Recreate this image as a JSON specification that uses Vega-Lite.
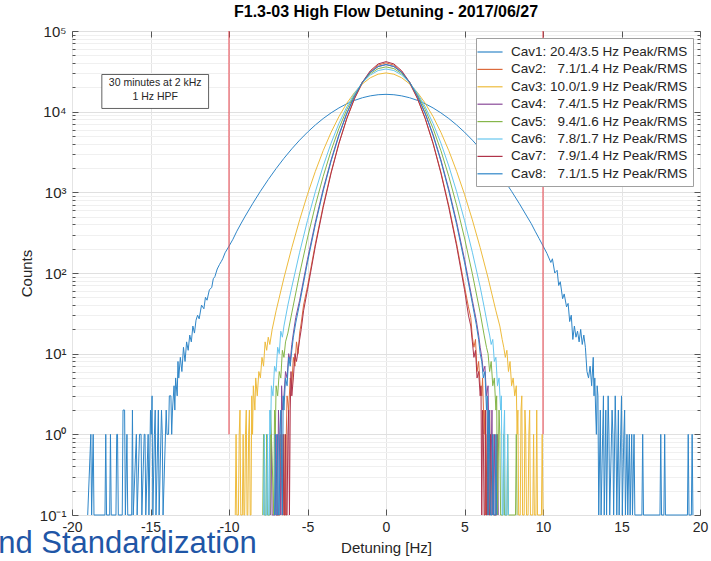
{
"$schema":"https://vega.github.io/schema/vega-lite/v6.json",
"width":628,"height":484,
"autosize":{"type":"none"},
"padding":{"left":72,"top":31,"right":11,"bottom":46},
"title":{"text":"F1.3-03 High Flow Detuning - 2017/06/27","fontSize":16,"fontWeight":"bold","font":"Liberation Sans","color":"#000000","anchor":"middle","offset":4},
"config":{"view":{"stroke":"#7a7a7a","strokeWidth":1},"font":"Liberation Sans",
"legend":{"orient":"top-right","offset":7,"symbolType":"M-1.5,0H1.5","symbolSize":280,"symbolStrokeWidth":1.2,"labelFontSize":13.5,"labelFont":"Liberation Sans","labelColor":"#262626","strokeColor":"#a0a0a0","fillColor":"#ffffff","padding":5,"rowPadding":1.4,"labelLimit":400,"labelOffset":12}},
"datasets":{
"h":[
{"c":"Cav1","x":-19.0,"n":0.1},{"c":"Cav1","x":-18.8,"n":1},{"c":"Cav1","x":-18.75,"n":0.1},{"c":"Cav1","x":-18.65,"n":1},{"c":"Cav1","x":-18.6,"n":0.1},{"c":"Cav1","x":-17.9,"n":0.1},{"c":"Cav1","x":-17.85,"n":1},{"c":"Cav1","x":-17.8,"n":0.1},{"c":"Cav1","x":-17.6,"n":0.1},{"c":"Cav1","x":-17.55,"n":1},{"c":"Cav1","x":-17.5,"n":0.1},{"c":"Cav1","x":-17.2,"n":0.1},{"c":"Cav1","x":-17.15,"n":1},{"c":"Cav1","x":-17.1,"n":1},{"c":"Cav1","x":-17.05,"n":0.1},{"c":"Cav1","x":-16.8,"n":0.1},{"c":"Cav1","x":-16.75,"n":2},{"c":"Cav1","x":-16.65,"n":2},{"c":"Cav1","x":-16.6,"n":0.1},{"c":"Cav1","x":-16.5,"n":1},{"c":"Cav1","x":-16.45,"n":0.1},{"c":"Cav1","x":-16.2,"n":0.1},{"c":"Cav1","x":-16.15,"n":2},{"c":"Cav1","x":-16.1,"n":0.1},{"c":"Cav1","x":-15.9,"n":1},{"c":"Cav1","x":-15.85,"n":0.1},{"c":"Cav1","x":-15.7,"n":1},{"c":"Cav1","x":-15.6,"n":1},{"c":"Cav1","x":-15.55,"n":0.1},{"c":"Cav1","x":-15.4,"n":1},{"c":"Cav1","x":-15.35,"n":1},{"c":"Cav1","x":-15.3,"n":0.1},{"c":"Cav1","x":-15.15,"n":1},{"c":"Cav1","x":-15.1,"n":0.1},{"c":"Cav1","x":-15.0,"n":2},{"c":"Cav1","x":-14.95,"n":1},{"c":"Cav1","x":-14.9,"n":3},{"c":"Cav1","x":-14.85,"n":0.1},{"c":"Cav1","x":-14.75,"n":1},{"c":"Cav1","x":-14.7,"n":2},{"c":"Cav1","x":-14.65,"n":0.1},{"c":"Cav1","x":-14.5,"n":2},{"c":"Cav1","x":-14.45,"n":0.1},{"c":"Cav1","x":-14.3,"n":2},{"c":"Cav1","x":-14.25,"n":1},{"c":"Cav1","x":-14.2,"n":0.1},{"c":"Cav1","x":-14.0,"n":2},{"c":"Cav1","x":-13.95,"n":1},{"c":"Cav1","x":-13.85,"n":1},{"c":"Cav1","x":-13.8,"n":3},{"c":"Cav1","x":-13.7,"n":3},{"c":"Cav1","x":-13.65,"n":1},{"c":"Cav1","x":-13.6,"n":2},{"c":"Cav1","x":-13.5,"n":4},{"c":"Cav1","x":-13.45,"n":2},{"c":"Cav1","x":-13.4,"n":5},{"c":"Cav1","x":-13.3,"n":3},{"c":"Cav1","x":-13.25,"n":8},{"c":"Cav1","x":-13.2,"n":5},{"c":"Cav1","x":-13.1,"n":9},{"c":"Cav1","x":-13.0,"n":6},{"c":"Cav1","x":-12.9,"n":12},{"c":"Cav1","x":-12.8,"n":8},{"c":"Cav1","x":-12.7,"n":14},{"c":"Cav1","x":-12.6,"n":11},{"c":"Cav1","x":-12.5,"n":17},{"c":"Cav1","x":-12.4,"n":14},{"c":"Cav1","x":-12.3,"n":22},{"c":"Cav1","x":-12.2,"n":18},{"c":"Cav1","x":-12.1,"n":26},{"c":"Cav1","x":-12.0,"n":30},{"c":"Cav1","x":-11.9,"n":27},{"c":"Cav1","x":-11.75,"n":40},{"c":"Cav1","x":-11.6,"n":36},{"c":"Cav1","x":-11.5,"n":50},{"c":"Cav1","x":-11.4,"n":46},{"c":"Cav1","x":-11.25,"n":62},{"c":"Cav1","x":-11.1,"n":66},{"c":"Cav1","x":-11.0,"n":85},{"c":"Cav1","x":-10.9,"n":90},{"c":"Cav1","x":-10.75,"n":112},{"c":"Cav1","x":-10.6,"n":128},{"c":"Cav1","x":-10.5,"n":138},{"c":"Cav1","x":-10.4,"n":150},{"c":"Cav1","x":-10.25,"n":178},{"c":"Cav1","x":-10.0,"n":215},{"c":"Cav1","x":-9.75,"n":262},{"c":"Cav1","x":-9.5,"n":330},{"c":"Cav1","x":-9.25,"n":405},{"c":"Cav1","x":-9.0,"n":494},{"c":"Cav1","x":-8.5,"n":721},{"c":"Cav1","x":-8.0,"n":1030},{"c":"Cav1","x":-7.5,"n":1440},{"c":"Cav1","x":-7.0,"n":1970},{"c":"Cav1","x":-6.5,"n":2640},{"c":"Cav1","x":-6.0,"n":3460},{"c":"Cav1","x":-5.5,"n":4440},{"c":"Cav1","x":-5.0,"n":5570},{"c":"Cav1","x":-4.5,"n":6840},{"c":"Cav1","x":-4.0,"n":8220},{"c":"Cav1","x":-3.5,"n":9660},{"c":"Cav1","x":-3.0,"n":11120},{"c":"Cav1","x":-2.5,"n":12530},{"c":"Cav1","x":-2.0,"n":13800},{"c":"Cav1","x":-1.5,"n":14890},{"c":"Cav1","x":-1.0,"n":15700},{"c":"Cav1","x":-0.5,"n":16220},{"c":"Cav1","x":0,"n":16400},{"c":"Cav1","x":0.5,"n":16220},{"c":"Cav1","x":1.0,"n":15700},{"c":"Cav1","x":1.5,"n":14890},{"c":"Cav1","x":2.0,"n":13800},{"c":"Cav1","x":2.5,"n":12530},{"c":"Cav1","x":3.0,"n":11120},{"c":"Cav1","x":3.5,"n":9660},{"c":"Cav1","x":4.0,"n":8220},{"c":"Cav1","x":4.5,"n":6840},{"c":"Cav1","x":5.0,"n":5570},{"c":"Cav1","x":5.5,"n":4440},{"c":"Cav1","x":6.0,"n":3460},{"c":"Cav1","x":6.5,"n":2640},{"c":"Cav1","x":7.0,"n":1970},{"c":"Cav1","x":7.5,"n":1440},{"c":"Cav1","x":8.0,"n":1030},{"c":"Cav1","x":8.5,"n":721},{"c":"Cav1","x":9.0,"n":494},{"c":"Cav1","x":9.25,"n":410},{"c":"Cav1","x":9.5,"n":330},{"c":"Cav1","x":9.75,"n":268},{"c":"Cav1","x":10.0,"n":217},{"c":"Cav1","x":10.25,"n":175},{"c":"Cav1","x":10.5,"n":135},{"c":"Cav1","x":10.6,"n":150},{"c":"Cav1","x":10.75,"n":100},{"c":"Cav1","x":10.9,"n":108},{"c":"Cav1","x":11.0,"n":70},{"c":"Cav1","x":11.1,"n":78},{"c":"Cav1","x":11.25,"n":48},{"c":"Cav1","x":11.35,"n":55},{"c":"Cav1","x":11.5,"n":38},{"c":"Cav1","x":11.6,"n":42},{"c":"Cav1","x":11.7,"n":25},{"c":"Cav1","x":11.8,"n":30},{"c":"Cav1","x":11.9,"n":15},{"c":"Cav1","x":12.0,"n":22},{"c":"Cav1","x":12.1,"n":16},{"c":"Cav1","x":12.2,"n":19},{"c":"Cav1","x":12.3,"n":14},{"c":"Cav1","x":12.4,"n":20},{"c":"Cav1","x":12.5,"n":13},{"c":"Cav1","x":12.6,"n":17},{"c":"Cav1","x":12.7,"n":12},{"c":"Cav1","x":12.8,"n":6},{"c":"Cav1","x":12.9,"n":5},{"c":"Cav1","x":13.0,"n":7},{"c":"Cav1","x":13.1,"n":4},{"c":"Cav1","x":13.2,"n":9},{"c":"Cav1","x":13.25,"n":3},{"c":"Cav1","x":13.3,"n":5},{"c":"Cav1","x":13.35,"n":2},{"c":"Cav1","x":13.4,"n":1},{"c":"Cav1","x":13.45,"n":4},{"c":"Cav1","x":13.5,"n":3},{"c":"Cav1","x":13.55,"n":0.1},{"c":"Cav1","x":13.65,"n":2},{"c":"Cav1","x":13.7,"n":0.1},{"c":"Cav1","x":13.8,"n":1},{"c":"Cav1","x":13.85,"n":3},{"c":"Cav1","x":13.9,"n":0.1},{"c":"Cav1","x":14.0,"n":2},{"c":"Cav1","x":14.05,"n":0.1},{"c":"Cav1","x":14.15,"n":3},{"c":"Cav1","x":14.2,"n":1},{"c":"Cav1","x":14.25,"n":0.1},{"c":"Cav1","x":14.4,"n":2},{"c":"Cav1","x":14.45,"n":1},{"c":"Cav1","x":14.5,"n":0.1},{"c":"Cav1","x":14.6,"n":3},{"c":"Cav1","x":14.65,"n":1},{"c":"Cav1","x":14.7,"n":0.1},{"c":"Cav1","x":14.8,"n":2},{"c":"Cav1","x":14.85,"n":0.1},{"c":"Cav1","x":14.95,"n":1},{"c":"Cav1","x":15.0,"n":3},{"c":"Cav1","x":15.05,"n":0.1},{"c":"Cav1","x":15.15,"n":1},{"c":"Cav1","x":15.2,"n":2},{"c":"Cav1","x":15.25,"n":0.1},{"c":"Cav1","x":15.35,"n":1},{"c":"Cav1","x":15.4,"n":0.1},{"c":"Cav1","x":15.5,"n":1},{"c":"Cav1","x":15.55,"n":0.1},{"c":"Cav1","x":15.65,"n":1},{"c":"Cav1","x":15.7,"n":0.1},{"c":"Cav1","x":15.8,"n":1},{"c":"Cav1","x":15.85,"n":0.1},{"c":"Cav1","x":16.3,"n":0.1},{"c":"Cav1","x":16.35,"n":1},{"c":"Cav1","x":16.4,"n":0.1},{"c":"Cav1","x":17.45,"n":0.1},{"c":"Cav1","x":17.5,"n":1},{"c":"Cav1","x":17.55,"n":0.1},{"c":"Cav1","x":17.7,"n":0.1},{"c":"Cav1","x":17.75,"n":1},{"c":"Cav1","x":17.8,"n":0.1},{"c":"Cav1","x":19.2,"n":0.1},{"c":"Cav1","x":19.25,"n":1},{"c":"Cav1","x":19.3,"n":0.1},{"c":"Cav1","x":19.45,"n":0.1},{"c":"Cav1","x":19.5,"n":1},{"c":"Cav1","x":19.55,"n":0.1},

{"c":"Cav2","x":-7.0,"n":0.1},{"c":"Cav2","x":-6.75,"n":0.1},{"c":"Cav2","x":-6.7,"n":1},{"c":"Cav2","x":-6.6,"n":0.1},{"c":"Cav2","x":-6.55,"n":0.1},{"c":"Cav2","x":-6.5,"n":1},{"c":"Cav2","x":-6.45,"n":0.1},{"c":"Cav2","x":-6.4,"n":0.1},{"c":"Cav2","x":-6.35,"n":1},{"c":"Cav2","x":-6.3,"n":3},{"c":"Cav2","x":-6.2,"n":2},{"c":"Cav2","x":-6.1,"n":5},{"c":"Cav2","x":-6.0,"n":4},{"c":"Cav2","x":-5.9,"n":9},{"c":"Cav2","x":-5.8,"n":7},{"c":"Cav2","x":-5.7,"n":14},{"c":"Cav2","x":-5.6,"n":10},{"c":"Cav2","x":-5.5,"n":18},{"c":"Cav2","x":-5.4,"n":24},{"c":"Cav2","x":-5.25,"n":40},{"c":"Cav2","x":-5.0,"n":68},{"c":"Cav2","x":-4.5,"n":230},{"c":"Cav2","x":-4.0,"n":679},{"c":"Cav2","x":-3.5,"n":1770},{"c":"Cav2","x":-3.0,"n":4060},{"c":"Cav2","x":-2.5,"n":8180},{"c":"Cav2","x":-2.0,"n":14520},{"c":"Cav2","x":-1.5,"n":22700},{"c":"Cav2","x":-1.0,"n":31190},{"c":"Cav2","x":-0.5,"n":37760},{"c":"Cav2","x":0,"n":40270},{"c":"Cav2","x":0.5,"n":37760},{"c":"Cav2","x":1.0,"n":31190},{"c":"Cav2","x":1.5,"n":22700},{"c":"Cav2","x":2.0,"n":14520},{"c":"Cav2","x":2.5,"n":8180},{"c":"Cav2","x":3.0,"n":4060},{"c":"Cav2","x":3.5,"n":1770},{"c":"Cav2","x":4.0,"n":679},{"c":"Cav2","x":4.5,"n":230},{"c":"Cav2","x":5.0,"n":68},{"c":"Cav2","x":5.25,"n":38},{"c":"Cav2","x":5.4,"n":28},{"c":"Cav2","x":5.5,"n":16},{"c":"Cav2","x":5.6,"n":12},{"c":"Cav2","x":5.7,"n":15},{"c":"Cav2","x":5.8,"n":6},{"c":"Cav2","x":5.9,"n":8},{"c":"Cav2","x":6.0,"n":4},{"c":"Cav2","x":6.1,"n":3},{"c":"Cav2","x":6.15,"n":5},{"c":"Cav2","x":6.25,"n":1},{"c":"Cav2","x":6.3,"n":2},{"c":"Cav2","x":6.35,"n":0.1},{"c":"Cav2","x":6.45,"n":1},{"c":"Cav2","x":6.5,"n":0.1},{"c":"Cav2","x":6.6,"n":2},{"c":"Cav2","x":6.65,"n":0.1},{"c":"Cav2","x":6.8,"n":1},{"c":"Cav2","x":6.85,"n":0.1},{"c":"Cav2","x":7.0,"n":0.1},{"c":"Cav2","x":7.05,"n":1},{"c":"Cav2","x":7.1,"n":0.1},

{"c":"Cav3","x":-9.6,"n":0.1},{"c":"Cav3","x":-9.55,"n":1},{"c":"Cav3","x":-9.5,"n":0.1},{"c":"Cav3","x":-9.4,"n":0.1},{"c":"Cav3","x":-9.35,"n":1},{"c":"Cav3","x":-9.3,"n":2},{"c":"Cav3","x":-9.25,"n":0.1},{"c":"Cav3","x":-9.15,"n":0.1},{"c":"Cav3","x":-9.1,"n":1},{"c":"Cav3","x":-9.05,"n":0.1},{"c":"Cav3","x":-9.0,"n":0.1},{"c":"Cav3","x":-8.95,"n":1},{"c":"Cav3","x":-8.9,"n":2},{"c":"Cav3","x":-8.85,"n":0.1},{"c":"Cav3","x":-8.8,"n":0.1},{"c":"Cav3","x":-8.75,"n":1},{"c":"Cav3","x":-8.7,"n":2},{"c":"Cav3","x":-8.65,"n":0.1},{"c":"Cav3","x":-8.6,"n":0.1},{"c":"Cav3","x":-8.55,"n":3},{"c":"Cav3","x":-8.5,"n":1},{"c":"Cav3","x":-8.45,"n":4},{"c":"Cav3","x":-8.35,"n":2},{"c":"Cav3","x":-8.3,"n":5},{"c":"Cav3","x":-8.2,"n":3},{"c":"Cav3","x":-8.1,"n":6},{"c":"Cav3","x":-8.0,"n":5},{"c":"Cav3","x":-7.9,"n":9},{"c":"Cav3","x":-7.8,"n":7},{"c":"Cav3","x":-7.7,"n":14},{"c":"Cav3","x":-7.6,"n":11},{"c":"Cav3","x":-7.5,"n":16},{"c":"Cav3","x":-7.4,"n":13},{"c":"Cav3","x":-7.25,"n":20},{"c":"Cav3","x":-7.0,"n":34},{"c":"Cav3","x":-6.5,"n":87},{"c":"Cav3","x":-6.0,"n":206},{"c":"Cav3","x":-5.5,"n":456},{"c":"Cav3","x":-5.0,"n":944},{"c":"Cav3","x":-4.5,"n":1820},{"c":"Cav3","x":-4.0,"n":3290},{"c":"Cav3","x":-3.5,"n":5530},{"c":"Cav3","x":-3.0,"n":8670},{"c":"Cav3","x":-2.5,"n":12700},{"c":"Cav3","x":-2.0,"n":17340},{"c":"Cav3","x":-1.5,"n":22130},{"c":"Cav3","x":-1.0,"n":26300},{"c":"Cav3","x":-0.5,"n":29170},{"c":"Cav3","x":0,"n":30200},{"c":"Cav3","x":0.5,"n":29170},{"c":"Cav3","x":1.0,"n":26300},{"c":"Cav3","x":1.5,"n":22130},{"c":"Cav3","x":2.0,"n":17340},{"c":"Cav3","x":2.5,"n":12700},{"c":"Cav3","x":3.0,"n":8670},{"c":"Cav3","x":3.5,"n":5530},{"c":"Cav3","x":4.0,"n":3290},{"c":"Cav3","x":4.5,"n":1820},{"c":"Cav3","x":5.0,"n":944},{"c":"Cav3","x":5.5,"n":456},{"c":"Cav3","x":6.0,"n":206},{"c":"Cav3","x":6.5,"n":87},{"c":"Cav3","x":7.0,"n":34},{"c":"Cav3","x":7.25,"n":22},{"c":"Cav3","x":7.4,"n":15},{"c":"Cav3","x":7.5,"n":12},{"c":"Cav3","x":7.6,"n":9},{"c":"Cav3","x":7.7,"n":11},{"c":"Cav3","x":7.8,"n":6},{"c":"Cav3","x":7.9,"n":8},{"c":"Cav3","x":8.0,"n":4},{"c":"Cav3","x":8.1,"n":5},{"c":"Cav3","x":8.2,"n":3},{"c":"Cav3","x":8.3,"n":4},{"c":"Cav3","x":8.35,"n":1},{"c":"Cav3","x":8.4,"n":2},{"c":"Cav3","x":8.45,"n":0.1},{"c":"Cav3","x":8.55,"n":0.1},{"c":"Cav3","x":8.6,"n":2},{"c":"Cav3","x":8.65,"n":3},{"c":"Cav3","x":8.7,"n":0.1},{"c":"Cav3","x":8.8,"n":0.1},{"c":"Cav3","x":8.85,"n":2},{"c":"Cav3","x":8.9,"n":1},{"c":"Cav3","x":8.95,"n":0.1},{"c":"Cav3","x":9.05,"n":0.1},{"c":"Cav3","x":9.1,"n":1},{"c":"Cav3","x":9.15,"n":2},{"c":"Cav3","x":9.2,"n":0.1},{"c":"Cav3","x":9.35,"n":0.1},{"c":"Cav3","x":9.4,"n":1},{"c":"Cav3","x":9.45,"n":0.1},{"c":"Cav3","x":9.55,"n":0.1},{"c":"Cav3","x":9.6,"n":2},{"c":"Cav3","x":9.65,"n":0.1},{"c":"Cav3","x":9.9,"n":0.1},{"c":"Cav3","x":9.95,"n":1},{"c":"Cav3","x":10.0,"n":0.1},

{"c":"Cav4","x":-7.35,"n":0.1},{"c":"Cav4","x":-7.3,"n":1},{"c":"Cav4","x":-7.25,"n":0.1},{"c":"Cav4","x":-7.05,"n":0.1},{"c":"Cav4","x":-7.0,"n":1},{"c":"Cav4","x":-6.95,"n":0.1},{"c":"Cav4","x":-6.9,"n":0.1},{"c":"Cav4","x":-6.85,"n":2},{"c":"Cav4","x":-6.8,"n":1},{"c":"Cav4","x":-6.7,"n":0.1},{"c":"Cav4","x":-6.65,"n":4},{"c":"Cav4","x":-6.6,"n":2},{"c":"Cav4","x":-6.5,"n":3},{"c":"Cav4","x":-6.4,"n":6},{"c":"Cav4","x":-6.3,"n":5},{"c":"Cav4","x":-6.2,"n":10},{"c":"Cav4","x":-6.1,"n":8},{"c":"Cav4","x":-6.0,"n":13},{"c":"Cav4","x":-5.9,"n":18},{"c":"Cav4","x":-5.75,"n":28},{"c":"Cav4","x":-5.5,"n":46},{"c":"Cav4","x":-5.0,"n":148},{"c":"Cav4","x":-4.5,"n":426},{"c":"Cav4","x":-4.0,"n":1094},{"c":"Cav4","x":-3.5,"n":2520},{"c":"Cav4","x":-3.0,"n":5190},{"c":"Cav4","x":-2.5,"n":9550},{"c":"Cav4","x":-2.0,"n":15740},{"c":"Cav4","x":-1.5,"n":23230},{"c":"Cav4","x":-1.0,"n":30690},{"c":"Cav4","x":-0.5,"n":36220},{"c":"Cav4","x":0,"n":38280},{"c":"Cav4","x":0.5,"n":36220},{"c":"Cav4","x":1.0,"n":30690},{"c":"Cav4","x":1.5,"n":23230},{"c":"Cav4","x":2.0,"n":15740},{"c":"Cav4","x":2.5,"n":9550},{"c":"Cav4","x":3.0,"n":5190},{"c":"Cav4","x":3.5,"n":2520},{"c":"Cav4","x":4.0,"n":1094},{"c":"Cav4","x":4.5,"n":426},{"c":"Cav4","x":5.0,"n":148},{"c":"Cav4","x":5.5,"n":46},{"c":"Cav4","x":5.75,"n":26},{"c":"Cav4","x":5.9,"n":17},{"c":"Cav4","x":6.0,"n":12},{"c":"Cav4","x":6.1,"n":9},{"c":"Cav4","x":6.2,"n":6},{"c":"Cav4","x":6.3,"n":7},{"c":"Cav4","x":6.4,"n":3},{"c":"Cav4","x":6.5,"n":4},{"c":"Cav4","x":6.55,"n":1},{"c":"Cav4","x":6.6,"n":2},{"c":"Cav4","x":6.65,"n":0.1},{"c":"Cav4","x":6.75,"n":2},{"c":"Cav4","x":6.8,"n":0.1},{"c":"Cav4","x":6.9,"n":1},{"c":"Cav4","x":6.95,"n":0.1},{"c":"Cav4","x":7.05,"n":0.1},{"c":"Cav4","x":7.1,"n":1},{"c":"Cav4","x":7.15,"n":0.1},

{"c":"Cav5","x":-7.85,"n":0.1},{"c":"Cav5","x":-7.8,"n":1},{"c":"Cav5","x":-7.75,"n":0.1},{"c":"Cav5","x":-7.65,"n":0.1},{"c":"Cav5","x":-7.6,"n":1},{"c":"Cav5","x":-7.55,"n":0.1},{"c":"Cav5","x":-7.4,"n":0.1},{"c":"Cav5","x":-7.35,"n":2},{"c":"Cav5","x":-7.3,"n":1},{"c":"Cav5","x":-7.15,"n":0.1},{"c":"Cav5","x":-7.1,"n":2},{"c":"Cav5","x":-7.05,"n":1},{"c":"Cav5","x":-7.0,"n":4},{"c":"Cav5","x":-6.9,"n":3},{"c":"Cav5","x":-6.8,"n":6},{"c":"Cav5","x":-6.7,"n":5},{"c":"Cav5","x":-6.6,"n":11},{"c":"Cav5","x":-6.5,"n":9},{"c":"Cav5","x":-6.4,"n":14},{"c":"Cav5","x":-6.25,"n":18},{"c":"Cav5","x":-6.0,"n":32},{"c":"Cav5","x":-5.5,"n":98},{"c":"Cav5","x":-5.0,"n":272},{"c":"Cav5","x":-4.5,"n":689},{"c":"Cav5","x":-4.0,"n":1578},{"c":"Cav5","x":-3.5,"n":3280},{"c":"Cav5","x":-3.0,"n":6190},{"c":"Cav5","x":-2.5,"n":10590},{"c":"Cav5","x":-2.0,"n":16440},{"c":"Cav5","x":-1.5,"n":23120},{"c":"Cav5","x":-1.0,"n":29510},{"c":"Cav5","x":-0.5,"n":34200},{"c":"Cav5","x":0,"n":35890},{"c":"Cav5","x":0.5,"n":34200},{"c":"Cav5","x":1.0,"n":29510},{"c":"Cav5","x":1.5,"n":23120},{"c":"Cav5","x":2.0,"n":16440},{"c":"Cav5","x":2.5,"n":10590},{"c":"Cav5","x":3.0,"n":6190},{"c":"Cav5","x":3.5,"n":3280},{"c":"Cav5","x":4.0,"n":1578},{"c":"Cav5","x":4.5,"n":689},{"c":"Cav5","x":5.0,"n":272},{"c":"Cav5","x":5.5,"n":98},{"c":"Cav5","x":6.0,"n":32},{"c":"Cav5","x":6.25,"n":17},{"c":"Cav5","x":6.4,"n":12},{"c":"Cav5","x":6.5,"n":10},{"c":"Cav5","x":6.6,"n":6},{"c":"Cav5","x":6.7,"n":8},{"c":"Cav5","x":6.8,"n":4},{"c":"Cav5","x":6.9,"n":5},{"c":"Cav5","x":7.0,"n":2},{"c":"Cav5","x":7.05,"n":3},{"c":"Cav5","x":7.1,"n":0.1},{"c":"Cav5","x":7.2,"n":2},{"c":"Cav5","x":7.25,"n":1},{"c":"Cav5","x":7.3,"n":0.1},{"c":"Cav5","x":7.45,"n":0.1},{"c":"Cav5","x":7.5,"n":1},{"c":"Cav5","x":7.55,"n":0.1},{"c":"Cav5","x":7.7,"n":0.1},{"c":"Cav5","x":7.75,"n":1},{"c":"Cav5","x":7.8,"n":0.1},{"c":"Cav5","x":8.25,"n":0.1},{"c":"Cav5","x":8.3,"n":1},{"c":"Cav5","x":8.35,"n":0.1},

{"c":"Cav6","x":-7.8,"n":0.1},{"c":"Cav6","x":-7.75,"n":1},{"c":"Cav6","x":-7.7,"n":0.1},{"c":"Cav6","x":-7.6,"n":0.1},{"c":"Cav6","x":-7.55,"n":1},{"c":"Cav6","x":-7.5,"n":0.1},{"c":"Cav6","x":-7.45,"n":0.1},{"c":"Cav6","x":-7.4,"n":2},{"c":"Cav6","x":-7.35,"n":1},{"c":"Cav6","x":-7.3,"n":4},{"c":"Cav6","x":-7.2,"n":3},{"c":"Cav6","x":-7.1,"n":7},{"c":"Cav6","x":-7.0,"n":6},{"c":"Cav6","x":-6.9,"n":12},{"c":"Cav6","x":-6.8,"n":10},{"c":"Cav6","x":-6.7,"n":19},{"c":"Cav6","x":-6.6,"n":16},{"c":"Cav6","x":-6.5,"n":22},{"c":"Cav6","x":-6.25,"n":40},{"c":"Cav6","x":-6.0,"n":67},{"c":"Cav6","x":-5.5,"n":181},{"c":"Cav6","x":-5.0,"n":449},{"c":"Cav6","x":-4.5,"n":1018},{"c":"Cav6","x":-4.0,"n":2120},{"c":"Cav6","x":-3.5,"n":4060},{"c":"Cav6","x":-3.0,"n":7130},{"c":"Cav6","x":-2.5,"n":11480},{"c":"Cav6","x":-2.0,"n":16940},{"c":"Cav6","x":-1.5,"n":22910},{"c":"Cav6","x":-1.0,"n":28440},{"c":"Cav6","x":-0.5,"n":32360},{"c":"Cav6","x":0,"n":33810},{"c":"Cav6","x":0.5,"n":32360},{"c":"Cav6","x":1.0,"n":28440},{"c":"Cav6","x":1.5,"n":22910},{"c":"Cav6","x":2.0,"n":16940},{"c":"Cav6","x":2.5,"n":11480},{"c":"Cav6","x":3.0,"n":7130},{"c":"Cav6","x":3.5,"n":4060},{"c":"Cav6","x":4.0,"n":2120},{"c":"Cav6","x":4.5,"n":1018},{"c":"Cav6","x":5.0,"n":449},{"c":"Cav6","x":5.5,"n":181},{"c":"Cav6","x":6.0,"n":67},{"c":"Cav6","x":6.25,"n":38},{"c":"Cav6","x":6.5,"n":21},{"c":"Cav6","x":6.6,"n":17},{"c":"Cav6","x":6.7,"n":13},{"c":"Cav6","x":6.8,"n":15},{"c":"Cav6","x":6.9,"n":8},{"c":"Cav6","x":7.0,"n":9},{"c":"Cav6","x":7.1,"n":4},{"c":"Cav6","x":7.2,"n":5},{"c":"Cav6","x":7.3,"n":2},{"c":"Cav6","x":7.35,"n":3},{"c":"Cav6","x":7.4,"n":0.1},{"c":"Cav6","x":7.45,"n":0.1},{"c":"Cav6","x":7.5,"n":1},{"c":"Cav6","x":7.55,"n":2},{"c":"Cav6","x":7.6,"n":0.1},{"c":"Cav6","x":7.7,"n":0.1},{"c":"Cav6","x":7.75,"n":1},{"c":"Cav6","x":7.8,"n":0.1},

{"c":"Cav7","x":-6.6,"n":0.1},{"c":"Cav7","x":-6.55,"n":1},{"c":"Cav7","x":-6.5,"n":0.1},{"c":"Cav7","x":-6.45,"n":0.1},{"c":"Cav7","x":-6.4,"n":1},{"c":"Cav7","x":-6.35,"n":0.1},{"c":"Cav7","x":-6.3,"n":0.1},{"c":"Cav7","x":-6.25,"n":1},{"c":"Cav7","x":-6.2,"n":2},{"c":"Cav7","x":-6.15,"n":0.1},{"c":"Cav7","x":-6.1,"n":2},{"c":"Cav7","x":-6.05,"n":6},{"c":"Cav7","x":-6.0,"n":3},{"c":"Cav7","x":-5.9,"n":5},{"c":"Cav7","x":-5.8,"n":10},{"c":"Cav7","x":-5.7,"n":8},{"c":"Cav7","x":-5.6,"n":11},{"c":"Cav7","x":-5.5,"n":15},{"c":"Cav7","x":-5.4,"n":20},{"c":"Cav7","x":-5.25,"n":34},{"c":"Cav7","x":-5.0,"n":62},{"c":"Cav7","x":-4.5,"n":215},{"c":"Cav7","x":-4.0,"n":649},{"c":"Cav7","x":-3.5,"n":1720},{"c":"Cav7","x":-3.0,"n":4010},{"c":"Cav7","x":-2.5,"n":8200},{"c":"Cav7","x":-2.0,"n":14720},{"c":"Cav7","x":-1.5,"n":23220},{"c":"Cav7","x":-1.0,"n":32140},{"c":"Cav7","x":-0.5,"n":39080},{"c":"Cav7","x":0,"n":41690},{"c":"Cav7","x":0.5,"n":39080},{"c":"Cav7","x":1.0,"n":32140},{"c":"Cav7","x":1.5,"n":23220},{"c":"Cav7","x":2.0,"n":14720},{"c":"Cav7","x":2.5,"n":8200},{"c":"Cav7","x":3.0,"n":4010},{"c":"Cav7","x":3.5,"n":1720},{"c":"Cav7","x":4.0,"n":649},{"c":"Cav7","x":4.5,"n":215},{"c":"Cav7","x":5.0,"n":62},{"c":"Cav7","x":5.25,"n":30},{"c":"Cav7","x":5.4,"n":22},{"c":"Cav7","x":5.5,"n":14},{"c":"Cav7","x":5.6,"n":9},{"c":"Cav7","x":5.7,"n":11},{"c":"Cav7","x":5.8,"n":5},{"c":"Cav7","x":5.9,"n":6},{"c":"Cav7","x":6.0,"n":3},{"c":"Cav7","x":6.05,"n":4},{"c":"Cav7","x":6.1,"n":0.1},{"c":"Cav7","x":6.15,"n":2},{"c":"Cav7","x":6.2,"n":1},{"c":"Cav7","x":6.25,"n":0.1},{"c":"Cav7","x":6.3,"n":0.1},{"c":"Cav7","x":6.35,"n":2},{"c":"Cav7","x":6.4,"n":0.1},{"c":"Cav7","x":6.45,"n":0.1},{"c":"Cav7","x":6.5,"n":1},{"c":"Cav7","x":6.55,"n":0.1},{"c":"Cav7","x":6.6,"n":0.1},{"c":"Cav7","x":6.65,"n":1},{"c":"Cav7","x":6.7,"n":0.1},

{"c":"Cav8","x":-7.1,"n":0.1},{"c":"Cav8","x":-7.05,"n":1},{"c":"Cav8","x":-7.0,"n":0.1},{"c":"Cav8","x":-6.95,"n":0.1},{"c":"Cav8","x":-6.9,"n":1},{"c":"Cav8","x":-6.85,"n":0.1},{"c":"Cav8","x":-6.8,"n":0.1},{"c":"Cav8","x":-6.75,"n":1},{"c":"Cav8","x":-6.7,"n":2},{"c":"Cav8","x":-6.6,"n":0.1},{"c":"Cav8","x":-6.55,"n":3},{"c":"Cav8","x":-6.5,"n":2},{"c":"Cav8","x":-6.4,"n":5},{"c":"Cav8","x":-6.3,"n":4},{"c":"Cav8","x":-6.2,"n":9},{"c":"Cav8","x":-6.1,"n":7},{"c":"Cav8","x":-6.0,"n":11},{"c":"Cav8","x":-5.9,"n":16},{"c":"Cav8","x":-5.75,"n":24},{"c":"Cav8","x":-5.5,"n":42},{"c":"Cav8","x":-5.0,"n":136},{"c":"Cav8","x":-4.5,"n":399},{"c":"Cav8","x":-4.0,"n":1040},{"c":"Cav8","x":-3.5,"n":2420},{"c":"Cav8","x":-3.0,"n":5050},{"c":"Cav8","x":-2.5,"n":9390},{"c":"Cav8","x":-2.0,"n":15600},{"c":"Cav8","x":-1.5,"n":23150},{"c":"Cav8","x":-1.0,"n":30690},{"c":"Cav8","x":-0.5,"n":36350},{"c":"Cav8","x":0,"n":38460},{"c":"Cav8","x":0.5,"n":36350},{"c":"Cav8","x":1.0,"n":30690},{"c":"Cav8","x":1.5,"n":23150},{"c":"Cav8","x":2.0,"n":15600},{"c":"Cav8","x":2.5,"n":9390},{"c":"Cav8","x":3.0,"n":5050},{"c":"Cav8","x":3.5,"n":2420},{"c":"Cav8","x":4.0,"n":1040},{"c":"Cav8","x":4.5,"n":399},{"c":"Cav8","x":5.0,"n":136},{"c":"Cav8","x":5.5,"n":42},{"c":"Cav8","x":5.75,"n":23},{"c":"Cav8","x":5.9,"n":15},{"c":"Cav8","x":6.0,"n":10},{"c":"Cav8","x":6.1,"n":8},{"c":"Cav8","x":6.2,"n":5},{"c":"Cav8","x":6.3,"n":6},{"c":"Cav8","x":6.4,"n":2},{"c":"Cav8","x":6.45,"n":3},{"c":"Cav8","x":6.5,"n":0.1},{"c":"Cav8","x":6.55,"n":2},{"c":"Cav8","x":6.6,"n":1},{"c":"Cav8","x":6.65,"n":0.1},{"c":"Cav8","x":6.75,"n":0.1},{"c":"Cav8","x":6.8,"n":1},{"c":"Cav8","x":6.85,"n":0.1},{"c":"Cav8","x":6.95,"n":0.1},{"c":"Cav8","x":7.0,"n":1},{"c":"Cav8","x":7.05,"n":0.1}
],
"lims":[{"x":-10,"lo":1,"hi":100000},{"x":10,"lo":1,"hi":100000}],
"box":[{"x1":-18.1,"x2":-11.3,"y1":10960,"y2":28900}],
"note":[{"x":-14.7,"n":22400,"t":"30 minutes at 2 kHz"},{"x":-14.7,"n":15000,"t":"1 Hz HPF"}],
"slide":[{"x":-24.7,"n":0.0335,"t":"nd Standardization"}]
},
"resolve":{"axis":{"x":"independent","y":"independent"}},
"layer":[
{"data":{"name":"h"},"mark":{"type":"line","strokeWidth":1,"interpolate":"linear"},
 "encoding":{
  "x":{"field":"x","type":"quantitative","scale":{"domain":[-20,20],"nice":false},
   "axis":{"orient":"bottom","values":[-20,-15,-10,-5,0,5,10,15,20],"labelExpr":"'' + datum.value","title":"Detuning [Hz]","titleFontSize":15,"titleFontWeight":"normal","titleColor":"#262626","titlePadding":6,"labelFontSize":14,"labelColor":"#262626","labelPadding":11,"tickSize":-6,"tickColor":"#555555","domain":false,"grid":true,"gridColor":"#e4e4e4","labelFlush":false}},
  "y":{"field":"n","type":"quantitative","scale":{"type":"log","domain":[0.1,100000],"nice":false},
   "axis":{"orient":"left","values":[0.1,0.2,0.3,0.4,0.5,0.6,0.7,0.8,0.9,1,2,3,4,5,6,7,8,9,10,20,30,40,50,60,70,80,90,100,200,300,400,500,600,700,800,900,1000,2000,3000,4000,5000,6000,7000,8000,9000,10000,20000,30000,40000,50000,60000,70000,80000,90000,100000],
    "labelExpr":"abs(log(datum.value)/LN10 - round(log(datum.value)/LN10)) < 0.001 ? '10' + ['⁻¹','⁰','¹','²','³','⁴','⁵'][round(log(datum.value)/LN10)+1] : ''",
    "title":"Counts","titleFontSize":15,"titleFontWeight":"normal","titleColor":"#262626","titlePadding":5,"labelFontSize":15,"labelColor":"#262626","labelPadding":12,"labelFlush":false,"labelOverlap":false,"domain":false,
    "tickColor":"#555555","tickSize":{"condition":{"test":"abs(log(datum.value)/LN10 - round(log(datum.value)/LN10)) < 0.001","value":-6},"value":-3},
    "grid":true,"gridColor":{"condition":{"test":"abs(log(datum.value)/LN10 - round(log(datum.value)/LN10)) < 0.001","value":"#e0e0e0"},"value":"#f0f0f0"}}},
  "color":{"field":"c","type":"nominal","scale":{"domain":["Cav1","Cav2","Cav3","Cav4","Cav5","Cav6","Cav7","Cav8"],"range":["#2f86c8","#dc6a3c","#eebb3c","#8a4a99","#86b64a","#66c6ef","#b03349","#2f86c8"]},
   "legend":{"title":null,"labelExpr":"({'Cav1':'Cav1: 20.4/3.5 Hz Peak/RMS','Cav2':'Cav2: \u20077.1/1.4 Hz Peak/RMS','Cav3':'Cav3: 10.0/1.9 Hz Peak/RMS','Cav4':'Cav4: \u20077.4/1.5 Hz Peak/RMS','Cav5':'Cav5: \u20079.4/1.6 Hz Peak/RMS','Cav6':'Cav6: \u20077.8/1.7 Hz Peak/RMS','Cav7':'Cav7: \u20077.9/1.4 Hz Peak/RMS','Cav8':'Cav8: \u20077.1/1.5 Hz Peak/RMS'})[datum.label]"}}}},
{"data":{"name":"lims"},"mark":{"type":"rule","color":"#e8404a","strokeWidth":1},
 "encoding":{
  "x":{"field":"x","type":"quantitative","axis":{"orient":"top","values":[-20,-15,-10,-5,0,5,10,15,20],"labels":false,"title":null,"grid":false,"domain":false,"tickSize":-6,"tickColor":"#555555"}},
  "y":{"field":"lo","type":"quantitative","axis":{"orient":"right","values":[0.1,0.2,0.3,0.4,0.5,0.6,0.7,0.8,0.9,1,2,3,4,5,6,7,8,9,10,20,30,40,50,60,70,80,90,100,200,300,400,500,600,700,800,900,1000,2000,3000,4000,5000,6000,7000,8000,9000,10000,20000,30000,40000,50000,60000,70000,80000,90000,100000],"labels":false,"title":null,"grid":false,"domain":false,"tickColor":"#555555","tickSize":{"condition":{"test":"abs(log(datum.value)/LN10 - round(log(datum.value)/LN10)) < 0.001","value":-6},"value":-3}}},
  "y2":{"field":"hi"}}},
{"data":{"name":"box"},"mark":{"type":"rect","fill":"#ffffff","stroke":"#3a3a3a","strokeWidth":0.8},
 "encoding":{"x":{"field":"x1","type":"quantitative","axis":null},"x2":{"field":"x2"},"y":{"field":"y1","type":"quantitative","axis":null},"y2":{"field":"y2"}}},
{"data":{"name":"note"},"mark":{"type":"text","fontSize":10.5,"color":"#262626","align":"center","baseline":"middle"},
 "encoding":{"x":{"field":"x","type":"quantitative","axis":null},"y":{"field":"n","type":"quantitative","axis":null},"text":{"field":"t"}}},
{"data":{"name":"slide"},"mark":{"type":"text","fontSize":31,"color":"#1f56a6","align":"left","baseline":"alphabetic","font":"Liberation Sans"},
 "encoding":{"x":{"field":"x","type":"quantitative","axis":null},"y":{"field":"n","type":"quantitative","axis":null},"text":{"field":"t"}}}
]
}
